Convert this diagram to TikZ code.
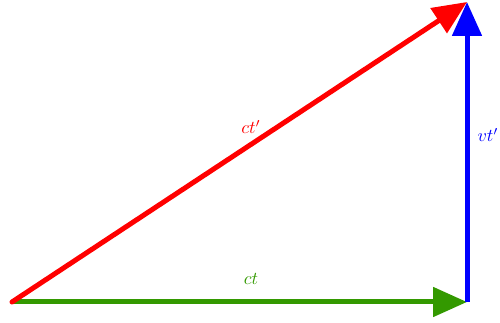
\documentclass[tikz,border=0pt]{standalone}
\usetikzlibrary{arrows.meta}
\definecolor{vgreen}{RGB}{51,153,0}
\tikzset{
  vec/.style={line width=5pt,-{Triangle[length=34pt,width=29pt]}},
  lbl/.style={scale=1.8, inner sep=1pt}
}
\begin{document}
\begin{tikzpicture}[x=1pt,y=1pt]
\useasboundingbox (0,0) rectangle (500,323);
\coordinate (O) at (12,21);
\coordinate (A) at (467,21);
\coordinate (B) at (467,321);
\draw[vec,vgreen] (O) -- (A);
\draw[vec,blue] (A) -- (B);
\draw[vec,red,line cap=round] (O) -- (B);
\node[lbl,text=vgreen] (lct) at (251,44) {$ct$};
\node[lbl,text=red] (lctp) at (251,196) {$ct'$};
\node[lbl,text=blue] (lvtp) at (488,188) {$vt'$};
\end{tikzpicture}
\end{document}
